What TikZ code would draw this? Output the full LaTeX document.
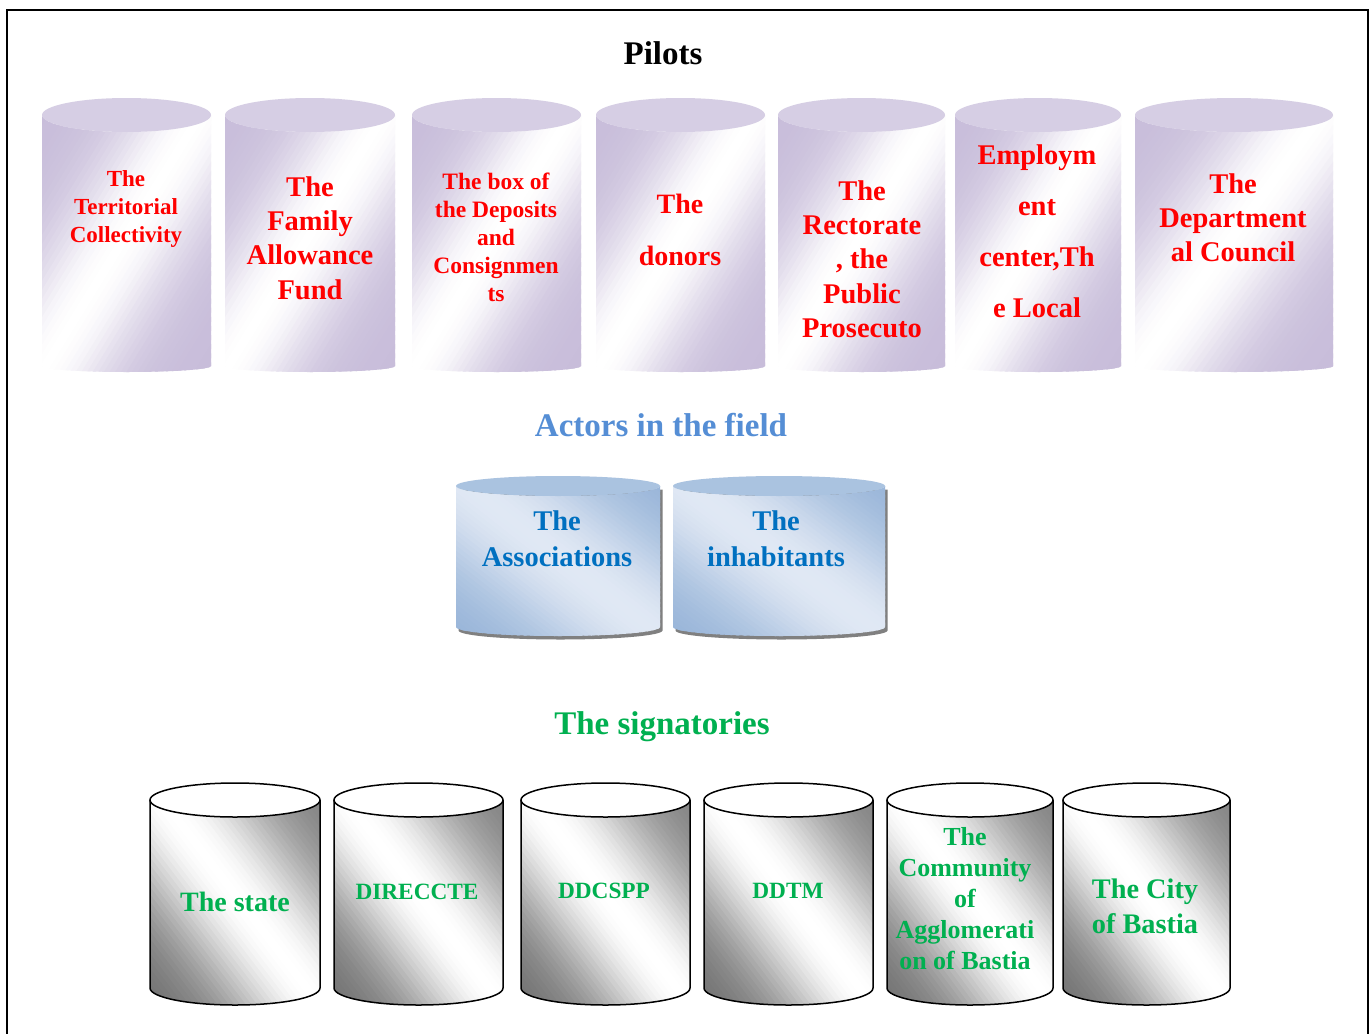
\documentclass[tikz,border=0pt]{standalone}
\usepackage{fontspec}
\setmainfont{Liberation Serif}
\definecolor{lav}{RGB}{200,189,218}
\definecolor{lavtop}{RGB}{214,206,228}
\definecolor{bdark}{RGB}{148,178,215}
\definecolor{blight}{RGB}{224,232,244}
\definecolor{btop}{RGB}{170,195,224}
\definecolor{gdarkA}{RGB}{110,110,110}
\definecolor{gdarkB}{RGB}{125,125,125}
\definecolor{pred}{RGB}{255,0,0}
\definecolor{pblue}{RGB}{0,112,192}
\definecolor{lblue}{RGB}{85,142,213}
\definecolor{pgreen}{RGB}{0,176,80}
\tikzset{
  lbl/.style={align=center, inner sep=0pt},
  pilot/.style={lbl, text=pred},
  actor/.style={lbl, text=pblue},
  signat/.style={lbl, text=pgreen},
  purptop/.style={fill=lavtop},
  bluetop/.style={fill=btop},
  grayoutline/.style={draw=black, line width=1.5pt},
  graytop/.style={fill=white, draw=black, line width=1.5pt},
  frameline/.style={draw=black, line width=2pt},
  shadowfill/.style={fill=black!50},
}
\newcommand\fs[2]{\fontsize{#1}{#2}\selectfont\bfseries}
% gradient A: light band along the anti-diagonal (upper right to lower left)
% args: x1,x2,y1,y2,end colour,mid colour,band width
\newcommand\gradA[7]{%
  \pgfmathsetmacro\gw{#2-#1}\pgfmathsetmacro\gh{#4-#3}%
  \foreach \k in {0,...,59}{%
    \pgfmathsetmacro\sa{\k/30}%
    \pgfmathsetmacro\sb{(\k+1.5)/30}%
    \pgfmathsetmacro\pc{100*exp(-(((\k+0.5)/30-1)/#7)^2)}%
    \colorlet{tmpc}{#6!\pc!#5}%
    \fill[tmpc] ({#1+(\sa+1)*\gw},{#3-\gh}) -- ({#1+(\sb+1)*\gw},{#3-\gh}) -- ({#1-\gw},{#3+(\sb+1)*\gh}) -- ({#1-\gw},{#3+(\sa+1)*\gh}) -- cycle;
  }%
}
% gradient B: light band along the main diagonal (upper left to lower right)
% args: x1,x2,y1,y2,colour at lower left,mid colour,colour at upper right,band width
\newcommand\gradB[8]{%
  \pgfmathsetmacro\gw{#2-#1}\pgfmathsetmacro\gh{#4-#3}%
  \foreach \k in {0,...,59}{%
    \pgfmathsetmacro\sa{-1+\k/30}%
    \pgfmathsetmacro\sb{-1+(\k+1.5)/30}%
    \pgfmathsetmacro\sm{-1+(\k+0.5)/30}%
    \pgfmathsetmacro\pc{100*exp(-(\sm/#8)^2)}%
    \ifdim \sm pt<0pt \colorlet{tmpc}{#6!\pc!#5}\else\colorlet{tmpc}{#6!\pc!#7}\fi
    \fill[tmpc] ({#1+(\sa-1)*\gw},{#3-\gh}) -- ({#1+(\sb-1)*\gw},{#3-\gh}) -- ({#1+(\sb+2)*\gw},{#3+2*\gh}) -- ({#1+(\sa+2)*\gw},{#3+2*\gh}) -- cycle;
  }%
}
% purple cylinder: x1, x2
\newcommand\purpcyl[2]{%
  \begin{scope}
    \clip (#1,115) -- (#1,366) arc[start angle=180,end angle=0,x radius={(#2-#1)/2},y radius=6] -- (#2,115) arc[start angle=0,end angle=180,x radius={(#2-#1)/2},y radius=17] -- cycle;
    \gradA{#1}{#2}{98}{372}{lav}{white}{0.42}
  \end{scope}
  \fill[purptop] ({(#1+#2)/2},115) ellipse[x radius={(#2-#1)/2}, y radius=17];
}
% blue cylinder: x1, x2
\newcommand\bluecyl[2]{%
  \fill[shadowfill, xshift=2.5pt, yshift=-3.5pt] (#1,486) -- (#1,627) arc[start angle=180,end angle=0,x radius={(#2-#1)/2},y radius=9] -- (#2,486) -- cycle;
  \begin{scope}
    \clip (#1,486) -- (#1,627) arc[start angle=180,end angle=0,x radius={(#2-#1)/2},y radius=9] -- (#2,486) arc[start angle=0,end angle=180,x radius={(#2-#1)/2},y radius=10] -- cycle;
    \gradB{#1}{#2}{476}{636}{bdark}{blight}{bdark}{0.6}
  \end{scope}
  \fill[bluetop] ({(#1+#2)/2},486) ellipse[x radius={(#2-#1)/2}, y radius=10];
}
% signatory cylinder: x1, x2
\newcommand\sigcyl[2]{%
  \begin{scope}
    \clip (#1,800) -- (#1,988) arc[start angle=180,end angle=0,x radius={(#2-#1)/2},y radius=17] -- (#2,800) arc[start angle=0,end angle=180,x radius={(#2-#1)/2},y radius=17] -- cycle;
    \gradB{#1}{#2}{783}{1005}{gdarkA}{white}{gdarkB}{0.55}
  \end{scope}
  \draw[grayoutline] (#1,800) -- (#1,988) arc[start angle=180,end angle=0,x radius={(#2-#1)/2},y radius=17] -- (#2,800);
  \filldraw[graytop] ({(#1+#2)/2},800) ellipse[x radius={(#2-#1)/2}, y radius=17];
}
\begin{document}
\begin{tikzpicture}[x=1pt,y=-1pt]
\useasboundingbox (0,0) rectangle (1372,1033);
\fill[white] (0,0) rectangle (1372,1033);
\draw[frameline] (7,1040) -- (7,10) -- (1368,10) -- (1368,1040);

% titles
\node[lbl, text=black, font=\fs{33}{38}] (tpilots) at (663,53) {Pilots};
\node[lbl, text=lblue, font=\fs{33}{38}] (tactors) at (661,425) {Actors in the field};
\node[lbl, text=pgreen, font=\fs{33}{38}] (tsign) at (662,727) {The signatories};

% pilots
\purpcyl{42}{211}
\purpcyl{225}{395}
\purpcyl{412}{581}
\purpcyl{596}{765}
\purpcyl{778}{945}
\purpcyl{955}{1121}
\purpcyl{1135}{1333}

\node[pilot, font=\fs{23}{28}] (p1) at (126,209) {The\\Territorial\\Collectivity};
\node[pilot, font=\fs{28.5}{34.3}] (p2) at (310,238) {The\\Family\\Allowance\\Fund};
\node[pilot, font=\fs{23.5}{28}] (p3) at (496,237) {The box of\\the Deposits\\and\\Consignmen\\ts};
\node[pilot, font=\fs{28}{52}] (p4) at (680,230) {The\\donors};
\node[pilot, font=\fs{28.5}{34.3}] (p5) at (862,259) {The\\Rectorate\\, the\\Public\\Prosecuto};
\node[pilot, font=\fs{28.5}{51}] (p6) at (1037,231) {Employm\\ent\\center,Th\\e Local};
\node[pilot, font=\fs{28.5}{34}] (p7) at (1233,218) {The\\Department\\al Council};

% actors
\bluecyl{456}{660}
\bluecyl{673}{885}
\node[actor, font=\fs{28.5}{36}] (a1) at (557,539) {The\\Associations};
\node[actor, font=\fs{28.5}{36}] (a2) at (776,539) {The\\inhabitants};

% signatories
\sigcyl{150}{320}
\sigcyl{334}{503}
\sigcyl{521}{690}
\sigcyl{704}{873}
\sigcyl{887}{1053}
\sigcyl{1063}{1230}
\node[signat, font=\fs{28}{34}] (s1) at (235,902) {The state};
\node[signat, font=\fs{23.3}{28}] (s2) at (417,892) {DIRECCTE};
\node[signat, font=\fs{23.3}{28}] (s3) at (604,891) {DDCSPP};
\node[signat, font=\fs{23.3}{28}] (s4) at (788,891) {DDTM};
\node[signat, font=\fs{26}{31}] (s5) at (965,899) {The\\Community\\of\\Agglomerati\\on of Bastia};
\node[signat, font=\fs{28.3}{35}] (s6) at (1145,906) {The City\\of Bastia};
\end{tikzpicture}
\end{document}
